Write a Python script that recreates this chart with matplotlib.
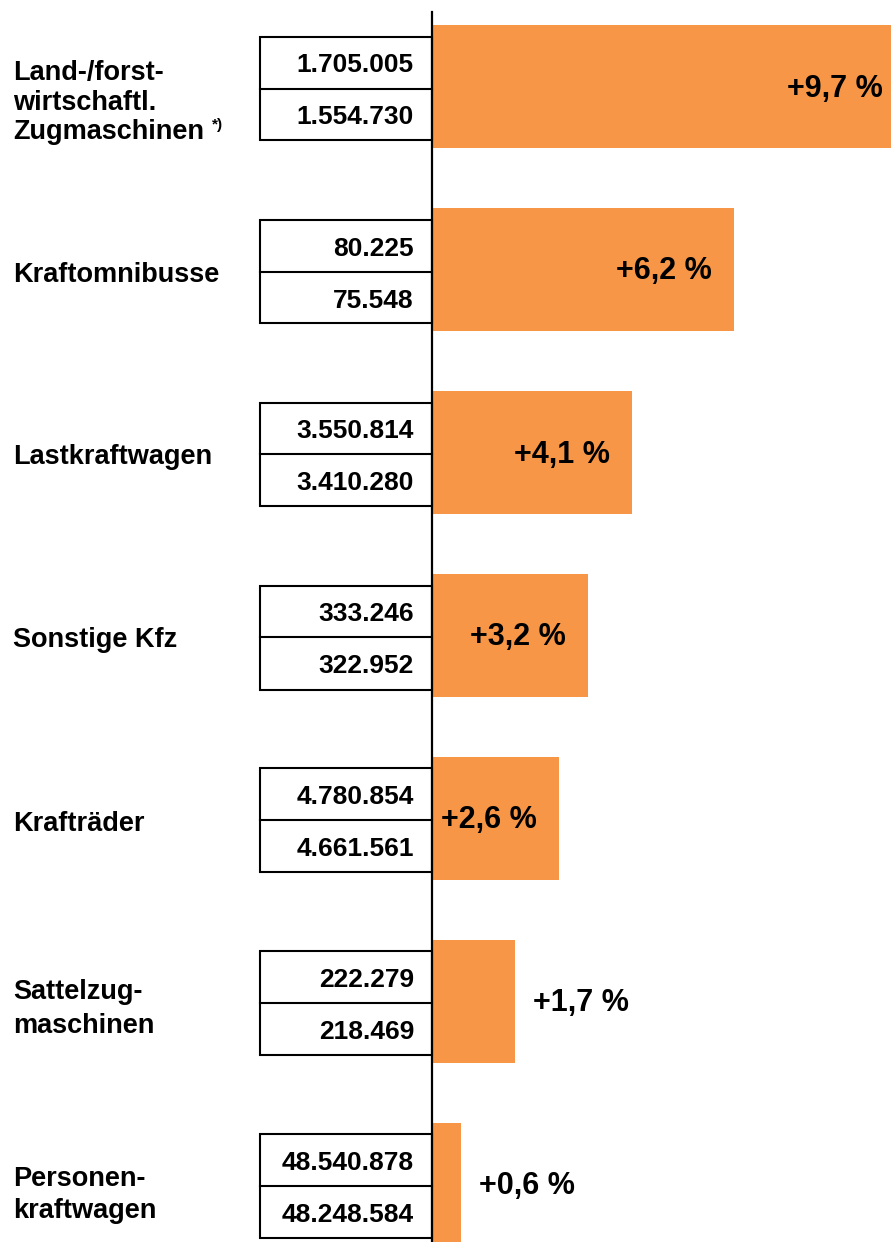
import matplotlib
matplotlib.use("Agg")
import matplotlib.pyplot as plt
from matplotlib.patches import Rectangle

# ---- data ----
categories = [
    "Land-/forst-\nwirtschaftl.\nZugmaschinen",
    "Kraftomnibusse",
    "Lastkraftwagen",
    "Sonstige Kfz",
    "Krafträder",
    "Sattelzug-\nmaschinen",
    "Personen-\nkraftwagen",
]
values_new = [1705005, 80225, 3550814, 333246, 4780854, 222279, 48540878]
values_old = [1554730, 75548, 3410280, 322952, 4661561, 218469, 48248584]
pct_change = [9.7, 6.2, 4.1, 3.2, 2.6, 1.7, 0.6]

BAR_COLOR = "#F79646"
FONT = "Liberation Sans"

W, H = 891, 1242
PX_X = 48.7      # pixels per percent
PX_Y = 183.0     # pixels per row
X0 = 432         # pixel of zero line
Y0 = 86.5        # pixel of first row centre


def dx(px):
    return px / PX_X


def dy(px):
    return px / PX_Y


def fmt_num(v):
    return f"{v:,}".replace(",", ".")


def fmt_pct(p):
    return ("+" if p >= 0 else "") + f"{p:.1f}".replace(".", ",") + " %"


fig = plt.figure(figsize=(W / 100, H / 100), dpi=100)
ax = fig.add_axes([0, 0, 1, 1])
ax.set_xlim(-X0 / PX_X, (W - X0) / PX_X)
ax.set_ylim((H - Y0) / PX_Y, -Y0 / PX_Y)
ax.axis("off")

rows = list(range(len(categories)))
ax.barh(rows, pct_change, height=dy(123), left=0, color=BAR_COLOR,
        edgecolor="none", zorder=1)

label_shift = [16, 6, 4, 5, 6, 7.5, 10.5]
label_spacing = [1.18, 1.2, 1.2, 1.2, 1.2, 1.38, 1.26]

box_w = dx(172)
box_h = dy(104)
for i, (cat, vn, vo, p) in enumerate(zip(categories, values_new, values_old, pct_change)):
    yc = i + dy(2)
    # value box
    ax.add_patch(Rectangle((-box_w, yc - box_h / 2), box_w, box_h,
                           facecolor="white", edgecolor="black", lw=1.5, zorder=2))
    ax.plot([-box_w, 0], [yc, yc], color="black", lw=1.5, zorder=3)
    ax.text(-dx(18), yc - box_h / 4 + dy(3), fmt_num(vn), ha="right", va="center",
            fontsize=19, fontweight="bold", family=FONT, zorder=4)
    ax.text(-dx(18), yc + box_h / 4 + dy(3), fmt_num(vo), ha="right", va="center",
            fontsize=19, fontweight="bold", family=FONT, zorder=4)
    # category label
    ax.text(-dx(X0 - 13), i + dy(label_shift[i]), cat, ha="left", va="center",
            fontsize=19.5, fontweight="bold", family=FONT,
            linespacing=label_spacing[i])
    # percent label
    if p >= 2.0:
        xt = p - dx(22)
        ha = "right"
    else:
        xt = p + dx(18)
        ha = "left"
    ax.text(xt, i + dy(2), fmt_pct(p), ha=ha, va="center",
            fontsize=22, fontweight="bold", family=FONT, zorder=4)

# footnote marker
ax.text(-dx(X0 - 212), dy(125 - Y0), "*)", ha="left", va="center",
        fontsize=11, fontweight="bold", family=FONT)

# zero line
ax.plot([0, 0], [-dy(Y0 - 12), (H - Y0) / PX_Y], color="black", lw=1.6, zorder=5)

fig.savefig("out.png", dpi=100)
